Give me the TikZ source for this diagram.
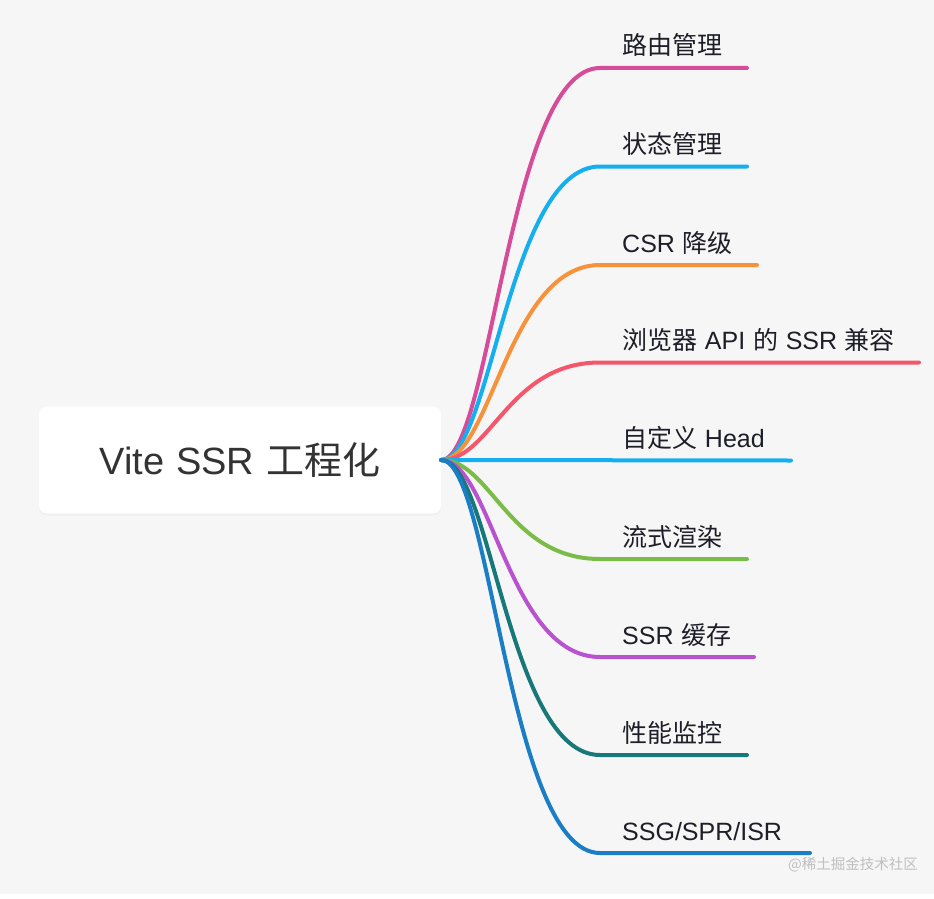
\documentclass[tikz,border=0pt]{standalone}
\usepackage{fontspec}
\setmainfont{Noto Sans CJK SC}
\newfontfamily\cjkf{Noto Sans CJK SC}
\newfontfamily\latf{Liberation Sans}
\newcommand\gapsp{\hspace{0.31em}}
\usetikzlibrary{shadows}
\definecolor{bgc}{HTML}{F6F6F6}
\definecolor{cpink}{HTML}{D64C98}
\definecolor{ccyan}{HTML}{15AEEE}
\definecolor{corange}{HTML}{F7923B}
\definecolor{cred}{HTML}{F4566B}
\definecolor{cgreen}{HTML}{7BBB48}
\definecolor{cpurple}{HTML}{B852CF}
\definecolor{cteal}{HTML}{17787A}
\definecolor{cblue}{HTML}{1B7DC4}
\definecolor{txt}{HTML}{1E1E28}
\begin{document}
\begin{tikzpicture}[x=1pt,y=-1pt,
  rootbox/.style={draw=none,fill=white,rounded corners=8pt,minimum width=402pt,minimum height=107pt,
    inner sep=0pt,drop shadow={opacity=0.06,shadow xshift=0pt,shadow yshift=-2pt},
    font=\fontsize{38}{46}\selectfont,text=black!80},
  branch/.style={line width=4pt,line cap=round},
  lbl/.style={anchor=base west,inner sep=0pt,font=\fontsize{25}{30}\selectfont,text=txt},
  wm/.style={anchor=base west,inner sep=0pt,font=\fontsize{14.5}{17}\selectfont,text=black!25}]
\useasboundingbox (0,0) rectangle (934,899);
\fill[white] (0,0) rectangle (934,899);
\fill[bgc] (0,0) rectangle (934,894);
\node[rootbox] (root) at (240,460) {{\latf Vite}\gapsp{\latf SSR}\gapsp 工程化};
% branch ends
\foreach \n/\yy/\xe in {1/68/747,2/166.5/747,3/265/757,4/362.5/919,5/460.5/791,6/559/747,7/657/754,8/755/747,9/853/810}{
  \coordinate (j\n) at (600,\yy);
  \coordinate (e\n) at (\xe,\yy);
}
\draw[branch,cpink]   (root.east) .. controls +(50,0) and +(-92,0) .. (j1) -- (e1);
\draw[branch,ccyan]   (root.east) .. controls +(50,0) and +(-92,0) .. (j2) -- (e2);
\draw[branch,corange] (root.east) .. controls +(50,0) and +(-92,0) .. (j3) -- (e3);
\draw[branch,cred]    (root.east) .. controls +(50,0) and +(-92,0) .. (j4) -- (e4);
\draw[branch,ccyan]   (root.east) -- (e5);
\draw[branch,cgreen]  (root.east) .. controls +(50,0) and +(-92,0) .. (j6) -- (e6);
\draw[branch,cpurple] (root.east) .. controls +(50,0) and +(-92,0) .. (j7) -- (e7);
\draw[branch,cteal]   (root.east) .. controls +(50,0) and +(-92,0) .. (j8) -- (e8);
\draw[branch,cblue]   (root.east) .. controls +(50,0) and +(-92,0) .. (j9) -- (e9);
\node[lbl] (l1) at (622,55) {路由管理};
\node[lbl] (l2) at (622,153.5) {状态管理};
\node[lbl] (l3) at (622,252) {{\latf CSR}\gapsp 降级};
\node[lbl] (l4) at (622,349.5) {浏览器\gapsp{\latf API}\gapsp 的\gapsp{\latf SSR}\gapsp 兼容};
\node[lbl] (l5) at (622,447.5) {自定义\gapsp{\latf Head}};
\node[lbl] (l6) at (622,546) {流式渲染};
\node[lbl] (l7) at (622,644) {{\latf SSR}\gapsp 缓存};
\node[lbl] (l8) at (622,742) {性能监控};
\node[lbl] (l9) at (622,840) {\latf SSG/SPR/ISR};
\node[wm] (wm) at (788,869) {@稀土掘金技术社区};
\end{tikzpicture}
\end{document}
